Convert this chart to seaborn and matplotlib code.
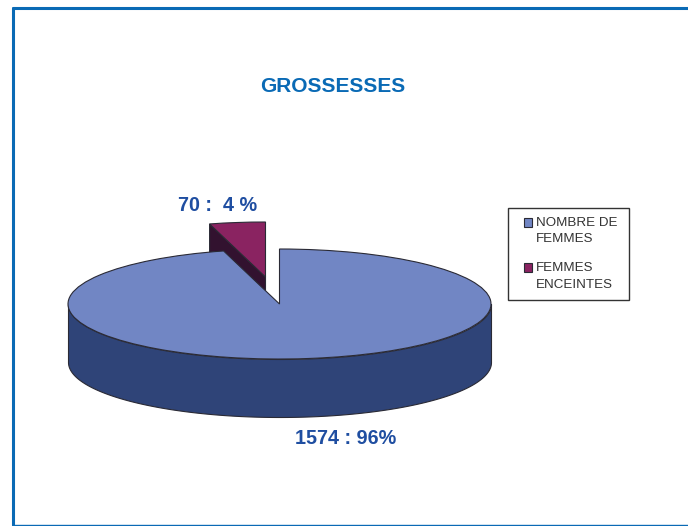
import numpy as np
import matplotlib
matplotlib.use('Agg')
import matplotlib.pyplot as plt
from matplotlib.lines import Line2D
from matplotlib.patches import Rectangle
import seaborn as sns

categories = ['NOMBRE DE\nFEMMES', 'FEMMES\nENCEINTES']
values = [1574, 70]
value_labels = ['1574 : 96%', '70 :  4 %']
title = 'GROSSESSES'

W, H = 688, 526
CX, CY, RX, RY = 279.5, 304, 211.5, 55
DEPTH = 58 / RY

sns.set_theme(style='white')
plt.rcParams['font.family'] = ['Liberation Sans', 'DejaVu Sans']
top_col, maroon = sns.color_palette(['#7186c4', '#8a2361'])
side_col = '#2f4478'
maroon_side = '#32122f'
edge = '#2a2a35'
blue = '#0a6ab5'
label_col = '#1f4ea1'

fig = plt.figure(figsize=(W / 100, H / 100), dpi=100)
ax = fig.add_axes([0, 0, 1, 1])

# exploded slice sits up and to the left of the main one
off_x, off_y = -14 / RX, 27 / RY
small, _ = ax.pie(values, startangle=90, counterclock=False, colors=[top_col, maroon],
                  center=(off_x, off_y),
                  wedgeprops=dict(edgecolor=edge, linewidth=0.8, zorder=3))
small[0].set_visible(False)

# side of the exploded slice, mostly hidden by the big one
t = np.radians(small[1].theta2)
ax.fill([off_x, off_x + np.cos(t), off_x + np.cos(t), off_x],
        [off_y, off_y + np.sin(t), off_y + np.sin(t) - DEPTH, off_y - DEPTH],
        color=maroon_side, ec=edge, lw=0.8, zorder=2)

main, _ = ax.pie(values, startangle=90, counterclock=False, colors=[top_col, maroon],
                 wedgeprops=dict(edgecolor=edge, linewidth=0.8, zorder=5))
main[1].set_visible(False)

# rim of the big slice
arc = np.radians(np.linspace(180, 360, 300))
ax.fill_between(np.cos(arc), np.sin(arc), np.sin(arc) - DEPTH,
                color=side_col, ec=edge, lw=0.8, zorder=4)

ax.set_aspect('auto')
ax.set_xlim(-CX / RX, (W - CX) / RX)
ax.set_ylim((CY - H) / RY, CY / RY)
ax.axis('off')

fig.text(332.5 / W, 1 - 87 / H, title, color=blue, fontsize=15, fontweight='bold',
         ha='center', va='center')
fig.text(217.5 / W, 1 - 205 / H, value_labels[1], color=label_col, fontsize=14.2,
         fontweight='bold', ha='center', va='center')
fig.text(346 / W, 1 - 439 / H, value_labels[0], color=label_col, fontsize=14.2,
         fontweight='bold', ha='center', va='center')

# legend box is wider than the entries, so it gets its own frame
fig.add_artist(Rectangle((507.5 / W, 1 - 300 / H), 121 / W, 92 / H, fc='white', ec='#333333',
                         lw=1, transform=fig.transFigure, zorder=1))
leg = ax.legend([main[0], small[1]], categories, loc='upper left',
                bbox_to_anchor=(524 / W, 1 - 217 / H), bbox_transform=fig.transFigure,
                fontsize=9.6, frameon=False, borderaxespad=0, borderpad=0, handlelength=0.6,
                handleheight=0.6, handletextpad=0.3, labelspacing=1.25, labelcolor='#333333')
for txt in leg.get_texts():
    txt.set_linespacing(1.5)
# squares line up with the first line of each entry, not the middle
for h in leg.legend_handles:
    h.set_y(h.get_y() + 6.2)
fig.legends.append(leg)
ax.legend_ = None

# blue page frame, open on the right
for xs, ys, lw in [((12.5, 12.5), (7.5, 525), 2.2), ((12.5, W), (7.5, 7.5), 2.2),
                   ((12.5, W), (525, 525), 1)]:
    fig.add_artist(Line2D([x / W for x in xs], [1 - y / H for y in ys], color=blue, lw=lw,
                          transform=fig.transFigure))

fig.savefig('out.png', dpi=100)
